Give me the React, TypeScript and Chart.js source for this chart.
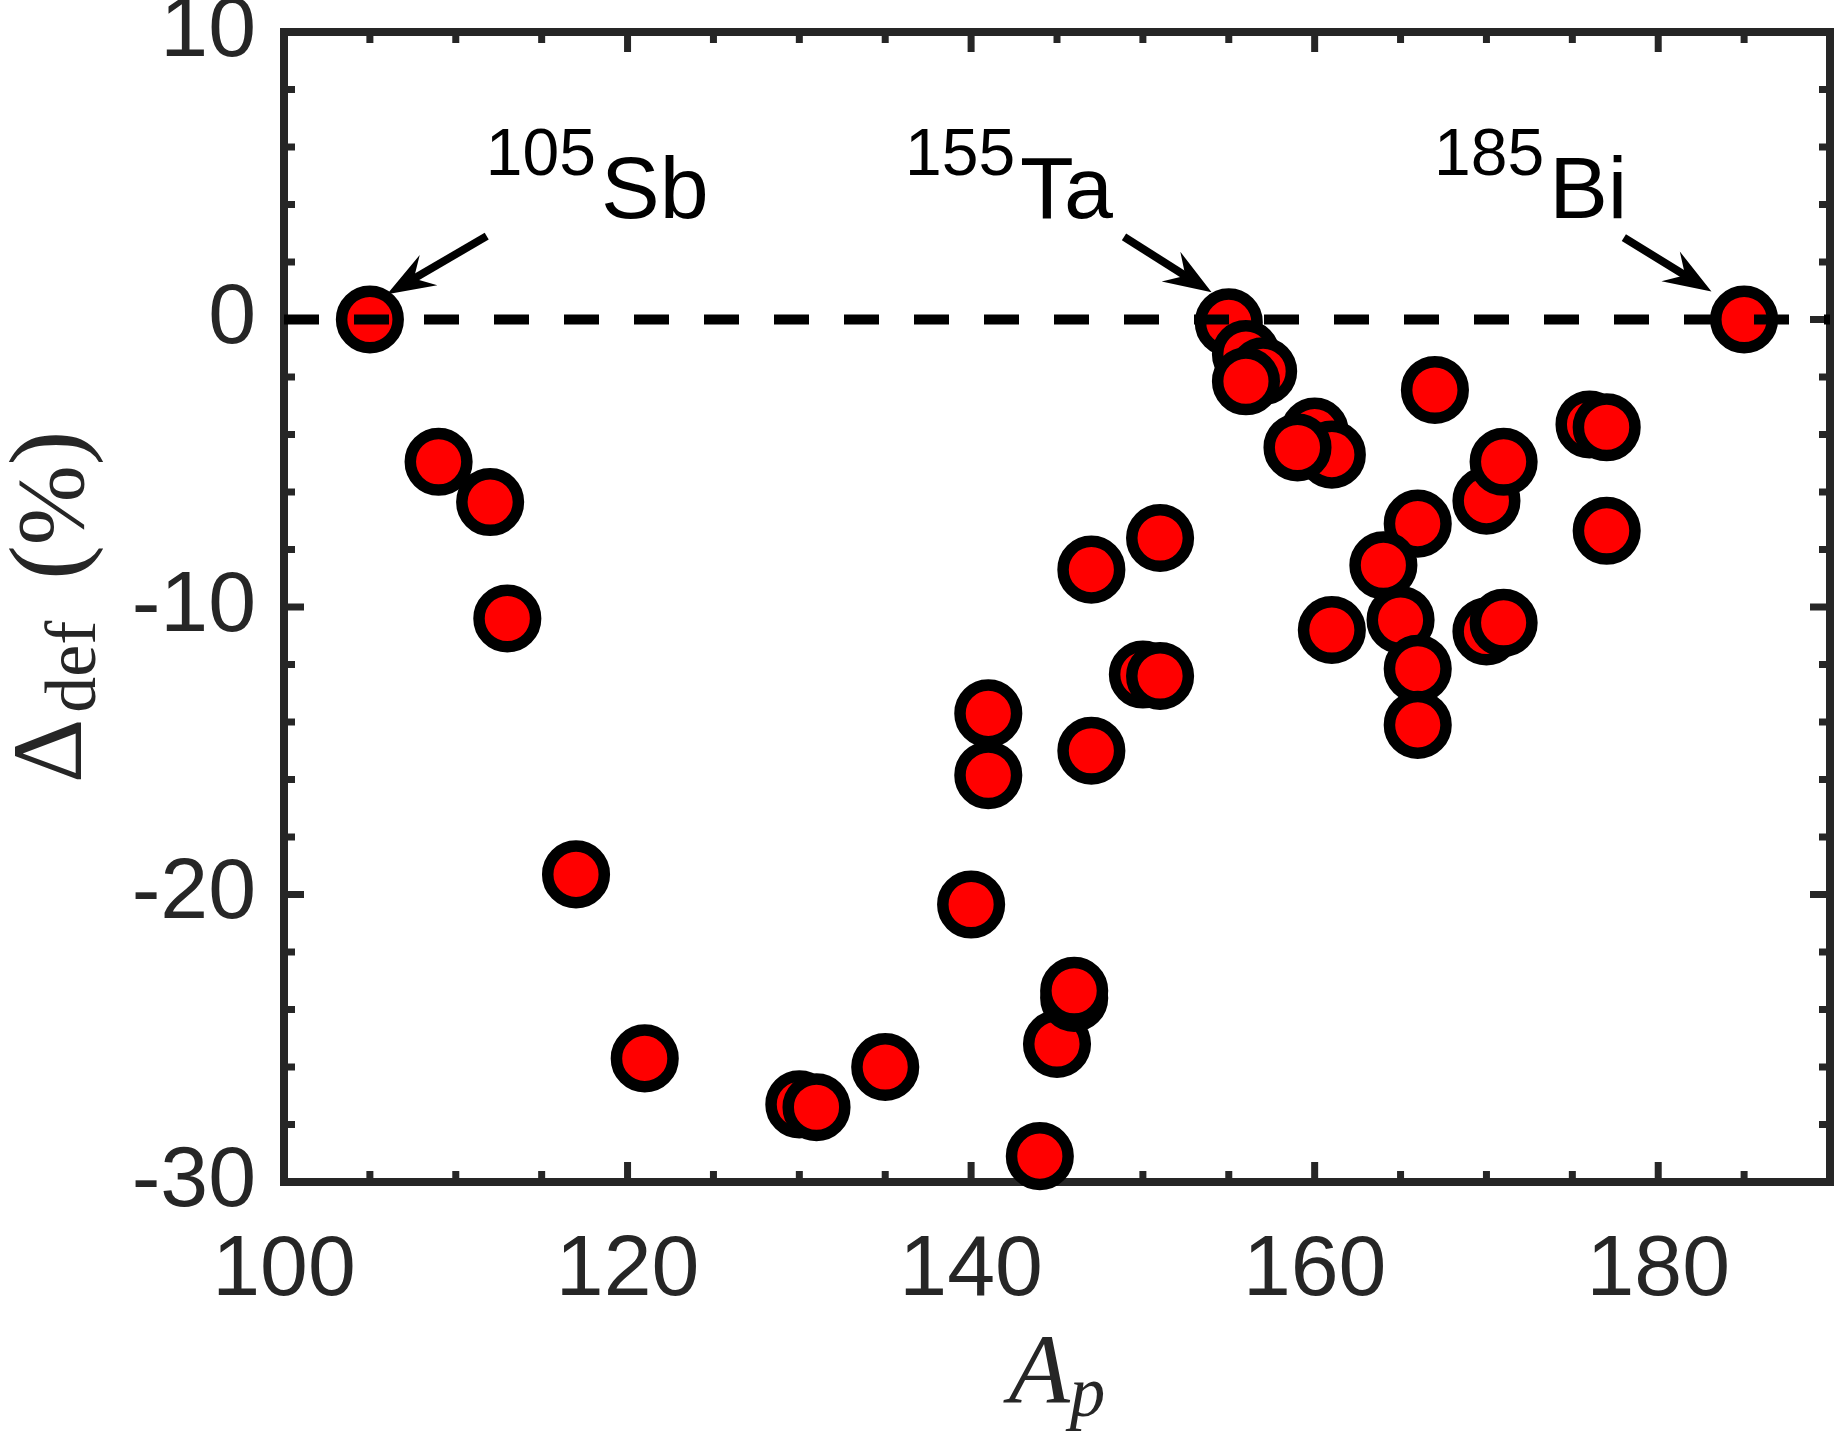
import { useEffect, useRef } from 'react';
import { Chart, registerables } from 'chart.js';

Chart.register(...registerables);

// ---- data ----
const massNumbers = [
  105, 109, 112, 113, 117, 121, 130, 131, 135, 140,
  141, 141, 144, 145, 146, 146, 147, 147, 150, 151,
  151, 155, 156, 157, 156, 160, 161, 159, 166, 164,
  165, 166, 166, 161, 167, 170, 171, 170, 171, 176,
  177, 177, 185,
];
const deltaDef = [
  0, -4.95, -6.35, -10.4, -19.3, -25.7, -27.3, -27.4, -26.0, -20.35,
  -13.7, -15.85, -29.1, -25.2, -23.6, -23.35, -8.7, -15.0, -12.35, -12.4,
  -7.6, -0.1, -1.2, -1.8, -2.15, -3.9, -4.7, -4.45, -7.1, -8.55,
  -10.45, -12.15, -14.1, -10.8, -2.45, -6.3, -4.95, -10.85, -10.55, -3.65,
  -3.75, -7.35, 0,
];
const xAxisMin = 100;
const xAxisMax = 190;
const yAxisMin = -30;
const yAxisMax = 10;
const xTickValues = [100, 120, 140, 160, 180];
const yTickValues = [-30, -20, -10, 0, 10];
const xMinorStep = 5;
const yMinorStep = 2;
const zeroLevel = 0;

const annotationMass = ['105', '155', '185'];
const annotationElement = ['Sb', 'Ta', 'Bi'];
const annotationTextA = [111.75, 136.15, 166.95];
const annotationTextDelta = [3.53, 3.53, 3.53];
const arrowTailA = [111.8, 148.9, 178.0];
const arrowTailDelta = [2.9, 2.87, 2.85];
const arrowTipA = [106.0, 154.0, 183.1];
const arrowTipDelta = [0.88, 0.95, 0.97];

// ---- style ----
const AXIS_COLOR = '#262626';
const SANS = '"Liberation Sans", Arial, Helvetica, sans-serif';
const SERIF = '"Liberation Serif", "Times New Roman", serif';
const W = 1845;
const H = 1437;

const framePlugin = {
  id: 'frameTicks',
  beforeDatasetsDraw(chart: any) {
    const { ctx, chartArea: a, scales } = chart;
    const x = scales.x;
    const y = scales.y;
    ctx.save();
    ctx.strokeStyle = AXIS_COLOR;
    ctx.lineCap = 'butt';
    ctx.lineWidth = 7;
    ctx.beginPath();
    for (let v = xAxisMin; v <= xAxisMax + 1e-9; v += xMinorStep) {
      const px = x.getPixelForValue(v);
      const len = xTickValues.includes(v) ? 20 : 11;
      ctx.moveTo(px, a.bottom);
      ctx.lineTo(px, a.bottom - len);
      ctx.moveTo(px, a.top);
      ctx.lineTo(px, a.top + len);
    }
    for (let v = yAxisMin; v <= yAxisMax + 1e-9; v += yMinorStep) {
      const py = y.getPixelForValue(v);
      const len = yTickValues.includes(v) ? 20 : 11;
      ctx.moveTo(a.left, py);
      ctx.lineTo(a.left + len, py);
      ctx.moveTo(a.right, py);
      ctx.lineTo(a.right - len, py);
    }
    ctx.stroke();
    ctx.lineWidth = 8;
    ctx.lineJoin = 'miter';
    ctx.strokeRect(a.left, a.top, a.right - a.left, a.bottom - a.top);
    ctx.restore();
  },
  afterDatasetsDraw(chart: any) {
    const { ctx, chartArea: a, scales } = chart;
    const x = scales.x;
    const y = scales.y;
    ctx.save();
    // annotations
    ctx.fillStyle = '#000';
    ctx.strokeStyle = '#000';
    ctx.textBaseline = 'alphabetic';
    ctx.textAlign = 'left';
    for (let i = 0; i < annotationMass.length; i++) {
      const px = x.getPixelForValue(annotationTextA[i]);
      const py = y.getPixelForValue(annotationTextDelta[i]);
      ctx.font = `66px ${SANS}`;
      ctx.fillText(annotationMass[i], px, py - 43);
      const w = ctx.measureText(annotationMass[i]).width;
      ctx.font = `88px ${SANS}`;
      ctx.fillText(annotationElement[i], px + w + 5, py);

      const tx = x.getPixelForValue(arrowTailA[i]);
      const ty = y.getPixelForValue(arrowTailDelta[i]);
      const hx = x.getPixelForValue(arrowTipA[i]);
      const hy = y.getPixelForValue(arrowTipDelta[i]);
      const dx = hx - tx;
      const dy = hy - ty;
      const len = Math.hypot(dx, dy);
      const ux = dx / len;
      const uy = dy / len;
      const nx = -uy;
      const ny = ux;
      const headLen = 48;
      const headHalf = 17.5;
      const notch = 17;
      ctx.lineWidth = 8;
      ctx.lineCap = 'butt';
      ctx.beginPath();
      ctx.moveTo(tx, ty);
      ctx.lineTo(hx - ux * (headLen - notch - 3), hy - uy * (headLen - notch - 3));
      ctx.stroke();
      ctx.beginPath();
      ctx.moveTo(hx, hy);
      ctx.lineTo(hx - ux * headLen + nx * headHalf, hy - uy * headLen + ny * headHalf);
      ctx.lineTo(hx - ux * (headLen - notch), hy - uy * (headLen - notch));
      ctx.lineTo(hx - ux * headLen - nx * headHalf, hy - uy * headLen - ny * headHalf);
      ctx.closePath();
      ctx.fill();
    }

    // x-axis title: A_p
    ctx.fillStyle = AXIS_COLOR;
    const cx = (a.left + a.right) / 2;
    ctx.font = `italic 100px ${SERIF}`;
    const wA = ctx.measureText('A').width;
    ctx.font = `italic 71px ${SERIF}`;
    const wp = ctx.measureText('p').width;
    const startX = cx - (wA + wp) / 2;
    const baseY = a.bottom + 221;
    ctx.font = `italic 100px ${SERIF}`;
    ctx.fillText('A', startX, baseY);
    ctx.font = `italic 71px ${SERIF}`;
    ctx.fillText('p', startX + wA, baseY + 13);

    // y-axis title: Δ_def (%)
    const cy = (a.top + a.bottom) / 2;
    ctx.translate(a.left - 203, cy + 176);
    ctx.rotate(-Math.PI / 2);
    let u = 0;
    ctx.font = `100px ${SERIF}`;
    ctx.fillText('Δ', u, 0);
    u += ctx.measureText('Δ').width + 6;
    ctx.font = `72px ${SERIF}`;
    ctx.fillText('def', u, 14);
    u += ctx.measureText('def').width + 41;
    ctx.font = `104px ${SERIF}`;
    ctx.fillText('(', u, 0);
    u += ctx.measureText('(').width;
    ctx.font = `96px ${SERIF}`;
    ctx.fillText('%', u, 2);
    u += ctx.measureText('%').width;
    ctx.font = `104px ${SERIF}`;
    ctx.fillText(')', u, 0);
    ctx.restore();
  },
};

export default function App() {
  const canvasRef = useRef<HTMLCanvasElement | null>(null);

  useEffect(() => {
    const canvas = canvasRef.current;
    if (!canvas) return;
    const points = massNumbers.map((m, i) => ({ x: m, y: deltaDef[i] }));
    const chart = new Chart(canvas, {
      type: 'scatter',
      data: {
        datasets: [
          {
            type: 'line',
            data: [
              { x: xAxisMin, y: zeroLevel },
              { x: xAxisMax, y: zeroLevel },
            ],
            borderColor: '#000000',
            borderWidth: 10,
            borderDash: [35, 35],
            borderCapStyle: 'butt',
            pointRadius: 0,
            pointHoverRadius: 0,
            fill: false,
            showLine: true,
            clip: false,
          } as any,
          {
            type: 'scatter',
            data: points,
            pointBackgroundColor: '#ff0000',
            pointBorderColor: '#000000',
            pointBorderWidth: 11.5,
            pointRadius: 28.3,
            pointHoverRadius: 28.3,
            pointHoverBorderWidth: 11.5,
            showLine: false,
            clip: false,
          } as any,
        ],
      },
      options: {
        animation: false,
        responsive: false,
        devicePixelRatio: 1,
        events: [],
        layout: { autoPadding: false, padding: { top: 32, right: 15, left: 0, bottom: 0 } },
        plugins: {
          legend: { display: false },
          tooltip: { enabled: false },
          title: { display: false },
        },
        scales: {
          x: {
            type: 'linear',
            position: 'bottom',
            min: xAxisMin,
            max: xAxisMax,
            afterBuildTicks: (s: any) => {
              s.ticks = xTickValues.map((v) => ({ value: v }));
            },
            afterFit: (s: any) => {
              s.height = 255;
              s.paddingLeft = 0;
              s.paddingRight = 0;
            },
            grid: { display: true, drawOnChartArea: false, drawTicks: false },
            border: { display: true, color: AXIS_COLOR, width: 8 },
            ticks: {
              padding: 46,
              color: AXIS_COLOR,
              font: { family: SANS, size: 86, lineHeight: 1 },
              maxRotation: 0,
              autoSkip: false,
            },
          },
          y: {
            type: 'linear',
            min: yAxisMin,
            max: yAxisMax,
            afterBuildTicks: (s: any) => {
              s.ticks = yTickValues.map((v) => ({ value: v }));
            },
            afterFit: (s: any) => {
              s.width = 284;
              s.paddingTop = 0;
              s.paddingBottom = 0;
            },
            grid: { display: true, drawOnChartArea: false, drawTicks: false },
            border: { display: true, color: AXIS_COLOR, width: 8 },
            ticks: {
              padding: 28,
              color: AXIS_COLOR,
              font: { family: SANS, size: 86, lineHeight: 1 },
              autoSkip: false,
            },
          },
        },
      },
      plugins: [framePlugin],
    } as any);
    return () => {
      chart.destroy();
    };
  }, []);

  return (
    <div style={{ position: 'absolute', left: 0, top: 0, width: W, height: H, background: '#ffffff' }}>
      <canvas ref={canvasRef} width={W} height={H} style={{ width: W, height: H, display: 'block' }} />
    </div>
  );
}
